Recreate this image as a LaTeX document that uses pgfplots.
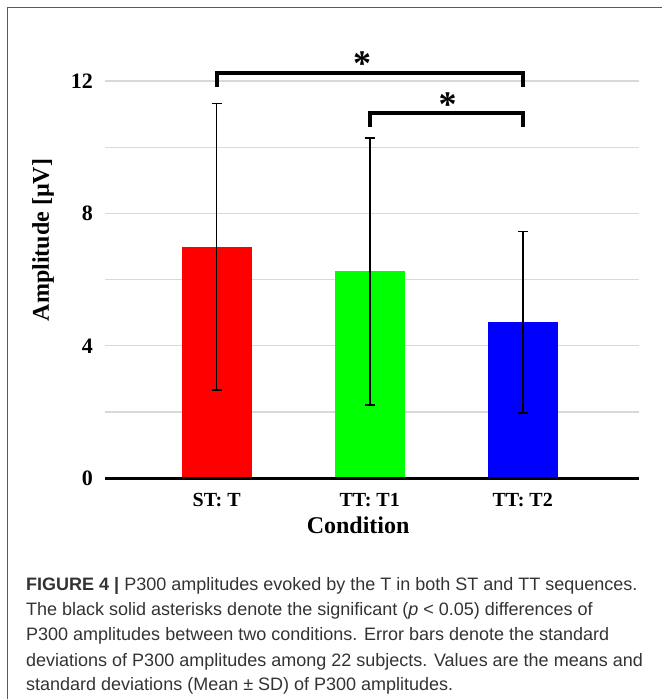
\documentclass[border=0pt]{standalone}
\usepackage{fontspec}
\setmainfont{Liberation Serif}
\newfontfamily\capfont{Liberation Sans}
\usepackage{pgfplots}
\pgfplotsset{compat=1.18}
\definecolor{barred}{RGB}{255,0,0}
\definecolor{bargreen}{RGB}{0,255,0}
\definecolor{barblue}{RGB}{0,0,255}
\begin{document}
\begin{tikzpicture}
\path[use as bounding box] (0,0) rectangle (662bp,699bp);
\draw[black!65, line width=1bp] (7.5bp,0) -- (7.5bp,691bp) -- (662bp,691bp);
\begin{axis}[
  at={(105bp,220.7bp)}, anchor=south west,
  scale only axis, width=534bp, height=430.3bp,
  xmin=-0.73, xmax=2.76, ymin=0, ymax=13,
  axis line style={draw=none},
  xtick={0,1,2}, xticklabels={ST: T, TT: T1, TT: T2},
  ytick={0,4,8,12}, minor ytick={2,6,10},
  ymajorgrids, yminorgrids,
  major grid style={black!15, line width=1.2bp},
  minor grid style={black!15, line width=1.2bp},
  major tick length=0, minor tick length=0,
  /pgf/number format/assume math mode=true,
  xticklabel style={font=\bfseries\fontsize{20bp}{24bp}\selectfont, anchor=base, yshift=-28.4bp, inner sep=0},
  yticklabel style={font=\bfseries\fontsize{22bp}{26bp}\selectfont, anchor=east, inner sep=0, xshift=-12bp},
  xlabel={Condition}, ylabel={Amplitude [µV]},
  label style={font=\bfseries\fontsize{24bp}{28bp}\selectfont},
  xlabel style={at={(rel axis cs:0.474,0)}, anchor=base, yshift=-55bp, inner sep=0},
  ylabel style={at={(rel axis cs:-0.1161,0.5538)}, anchor=center, inner sep=0},
  clip=false,
]
\addplot[ybar, bar width=70bp, bar shift=0pt, fill=barred, draw=none,
  error bars/.cd, y dir=both, y explicit,
  error bar style={black, line width=1.6bp},
  error mark options={black, line width=1.6bp, mark size=5bp, rotate=90}]
  coordinates {(0,6.99) +- (0,4.33)};
\addplot[ybar, bar width=70bp, bar shift=0pt, fill=bargreen, draw=none,
  error bars/.cd, y dir=both, y explicit,
  error bar style={black, line width=1.6bp},
  error mark options={black, line width=1.6bp, mark size=5bp, rotate=90}]
  coordinates {(1,6.25) +- (0,4.03)};
\addplot[ybar, bar width=70bp, bar shift=0pt, fill=barblue, draw=none,
  error bars/.cd, y dir=both, y explicit,
  error bar style={black, line width=1.6bp},
  error mark options={black, line width=1.6bp, mark size=5bp, rotate=90}]
  coordinates {(2,4.715) +- (0,2.745)};
\draw[black, line width=3.5bp] (rel axis cs:0,0) -- (rel axis cs:1,0);
\addplot[black, line width=4bp, mark=none, line join=miter] coordinates {(0,11.83) (0,12.24) (2,12.24) (2,11.83)};
\addplot[black, line width=4bp, mark=none, line join=miter] coordinates {(1,10.62) (1,11.03) (2,11.03) (2,10.62)};
\node[font=\bfseries\fontsize{36bp}{36bp}\selectfont, anchor=base, inner sep=0] at (axis cs:0.95,12.18) {*};
\node[font=\bfseries\fontsize{36bp}{36bp}\selectfont, anchor=base, inner sep=0] at (axis cs:1.51,10.94) {*};
\end{axis}
\begin{scope}[every node/.style={anchor=base west, inner sep=0, text=black!80, font=\capfont\fontsize{18bp}{25bp}\selectfont}]
\node at (26bp,108.3bp) {\textbf{FIGURE 4 |} P300 amplitudes evoked by the T in both ST and TT sequences.};
\node at (26bp,83bp) {The black solid asterisks denote the significant (\textit{p} < 0.05) differences of};
\node at (26bp,58bp) {P300 amplitudes between two conditions. Error bars denote the standard};
\node at (26bp,32.3bp) {deviations of P300 amplitudes among 22 subjects. Values are the means and};
\node at (26bp,8.3bp) {standard deviations (Mean ± SD) of P300 amplitudes.};
\end{scope}
\end{tikzpicture}
\end{document}
